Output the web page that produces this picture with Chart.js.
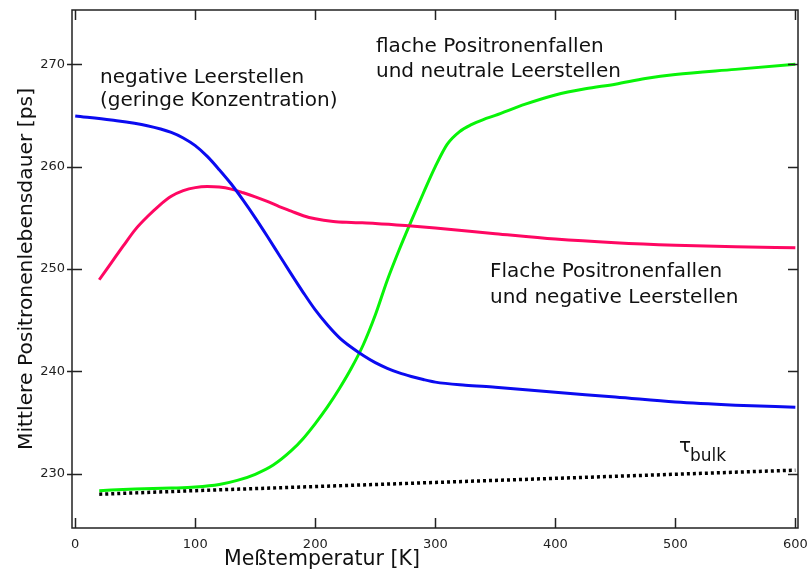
<!DOCTYPE html>
<html>
<head>
<meta charset="utf-8">
<script src="https://cdn.jsdelivr.net/npm/chart.js@4/dist/chart.umd.min.js"></script>
<style>
  html, body { margin: 0; padding: 0; background: #ffffff; }
  #wrap { width: 808px; height: 579px; }
</style>
</head>
<body>
<div id="wrap"><canvas id="c" width="808" height="579"></canvas></div>
<script>
// Axis ticks
const xTicks = [0, 100, 200, 300, 400, 500, 600];
const yTicks = [230, 240, 250, 260, 270];

// Negative vacancies, low concentration (blue)
const tempNegLow = [0, 30, 60, 80, 90, 100, 110, 120, 130, 140, 150, 160, 170, 180, 190, 200, 210, 220, 230, 240, 250, 260, 270, 280, 290, 300, 325, 350, 400, 450, 500, 550, 600];
const tauNegLow  = [264.95, 264.55, 264.0, 263.35, 262.8, 262.05, 261.0, 259.7, 258.3, 256.7, 255.0, 253.2, 251.35, 249.5, 247.7, 246.0, 244.55, 243.3, 242.35, 241.55, 240.85, 240.3, 239.85, 239.5, 239.2, 238.95, 238.65, 238.45, 237.95, 237.5, 237.0, 236.7, 236.5];

// Shallow traps and negative vacancies (pink)
const tempShallowNeg = [20, 30, 40, 50, 60, 70, 80, 90, 100, 110, 120, 130, 140, 150, 160, 170, 180, 190, 200, 215, 230, 250, 275, 300, 350, 400, 450, 500, 550, 600];
const tauShallowNeg  = [248.95, 250.6, 252.25, 253.85, 255.1, 256.2, 257.1, 257.65, 257.95, 258.05, 258.0, 257.8, 257.45, 257.05, 256.6, 256.1, 255.65, 255.2, 254.9, 254.65, 254.55, 254.45, 254.25, 254.0, 253.45, 252.92, 252.56, 252.32, 252.17, 252.07];

// Shallow traps and neutral vacancies (green)
const tempShallowNeutral = [20, 50, 80, 100, 120, 135, 150, 165, 180, 190, 200, 210, 220, 230, 240, 250, 260, 270, 280, 290, 300, 310, 320, 330, 340, 350, 375, 400, 425, 450, 475, 500, 550, 600];
const tauShallowNeutral  = [228.35, 228.5, 228.6, 228.7, 228.95, 229.35, 229.95, 230.85, 232.25, 233.45, 234.9, 236.5, 238.3, 240.3, 242.6, 245.5, 248.9, 251.9, 254.7, 257.4, 260.0, 262.2, 263.4, 264.1, 264.6, 265.0, 266.1, 267.0, 267.6, 268.05, 268.6, 269.0, 269.5, 270.0];

// Bulk lifetime (dotted)
const tempBulk = [20, 100, 200, 300, 400, 500, 600];
const tauBulk  = [228.0, 228.35, 228.75, 229.15, 229.55, 229.95, 230.35];

const pts = (xs, ys) => xs.map((x, i) => ({ x: x, y: ys[i] }));

const FONT = '"DejaVu Sans", "Verdana", sans-serif';

function curve(label, xs, ys, color) {
  return {
    label: label,
    data: pts(xs, ys),
    borderColor: color,
    borderWidth: 3,
    pointRadius: 0,
    fill: false,
    cubicInterpolationMode: 'monotone'
  };
}

// keep the plot box fixed: no extra room for overhanging tick labels
function fixBox(size) {
  return function (scale) {
    Object.assign(scale, size);
    scale.paddingTop = 0;
    scale.paddingBottom = 0;
    scale.paddingLeft = 0;
    scale.paddingRight = 0;
  };
}

// Frame with inward tick marks, axis titles and curve annotations
const framePlugin = {
  id: 'frame',
  afterDraw(chart) {
    const { ctx, chartArea: a, scales: { x, y } } = chart;
    ctx.save();
    ctx.strokeStyle = '#222';
    ctx.lineWidth = 1.5;
    ctx.strokeRect(a.left, a.top, a.right - a.left, a.bottom - a.top);
    ctx.beginPath();
    xTicks.forEach(v => {
      const px = Math.round(x.getPixelForValue(v)) + 0.5;
      ctx.moveTo(px, a.bottom); ctx.lineTo(px, a.bottom - 10);
      ctx.moveTo(px, a.top); ctx.lineTo(px, a.top + 10);
    });
    yTicks.forEach(v => {
      const py = Math.round(y.getPixelForValue(v)) + 0.5;
      ctx.moveTo(a.left - 5, py); ctx.lineTo(a.left + 10, py);
      ctx.moveTo(a.right, py); ctx.lineTo(a.right - 10, py);
    });
    ctx.stroke();

    ctx.fillStyle = '#111';
    ctx.textAlign = 'left';
    ctx.textBaseline = 'alphabetic';
    ctx.font = '20px ' + FONT;
    ctx.fillText('negative Leerstellen', 100, 83);
    ctx.fillText('(geringe Konzentration)', 100, 106);
    ctx.fillText('flache Positronenfallen', 376, 52);
    ctx.fillText('und neutrale Leerstellen', 376, 77);
    ctx.fillText('Flache Positronenfallen', 490, 277);
    ctx.fillText('und negative Leerstellen', 490, 303);

    ctx.font = '20px ' + FONT;
    ctx.fillText('\u03C4', 679, 452);
    ctx.font = '17px ' + FONT;
    ctx.fillText('bulk', 690, 461);

    // axis titles
    ctx.font = '20.5px ' + FONT;
    ctx.textAlign = 'center';
    ctx.fillText('Meßtemperatur [K]', 322, 565);
    ctx.save();
    ctx.translate(32, 269);
    ctx.rotate(-Math.PI / 2);
    ctx.font = '20.3px ' + FONT;
    ctx.fillText('Mittlere Positronenlebensdauer [ps]', 0, 0);
    ctx.restore();
    ctx.restore();
  }
};

new Chart(document.getElementById('c'), {
  type: 'line',
  data: {
    datasets: [
      curve('negative Leerstellen (geringe Konzentration)', tempNegLow, tauNegLow, '#0b0bf0'),
      curve('Flache Positronenfallen und negative Leerstellen', tempShallowNeg, tauShallowNeg, '#ff0762'),
      curve('flache Positronenfallen und neutrale Leerstellen', tempShallowNeutral, tauShallowNeutral, '#08f408'),
      {
        label: 'tau bulk',
        data: pts(tempBulk, tauBulk),
        borderColor: '#000',
        borderWidth: 3.5,
        borderDash: [3, 3],
        borderCapStyle: 'butt',
        pointRadius: 0,
        fill: false,
        tension: 0
      }
    ]
  },
  options: {
    responsive: false,
    animation: false,
    layout: { autoPadding: false, padding: { top: 10, right: 10, left: 0, bottom: 0 } },
    plugins: { legend: { display: false }, tooltip: { enabled: false } },
    scales: {
      x: {
        type: 'linear',
        min: -2.7,
        max: 602.2,
        grid: { display: false, drawTicks: false },
        border: { display: false },
        afterBuildTicks(scale) { scale.ticks = xTicks.map(v => ({ value: v })); },
        afterFit: fixBox({ height: 51 }),
        ticks: { font: { family: FONT, size: 13 }, color: '#222', padding: 9, maxRotation: 0 }
      },
      y: {
        type: 'linear',
        min: 224.7,
        max: 275.3,
        grid: { display: false, drawTicks: false },
        border: { display: false },
        afterBuildTicks(scale) { scale.ticks = yTicks.map(v => ({ value: v })); },
        afterFit: fixBox({ width: 72 }),
        ticks: { font: { family: FONT, size: 13 }, color: '#222', padding: 7 }
      }
    }
  },
  plugins: [framePlugin]
});
</script>
</body>
</html>
